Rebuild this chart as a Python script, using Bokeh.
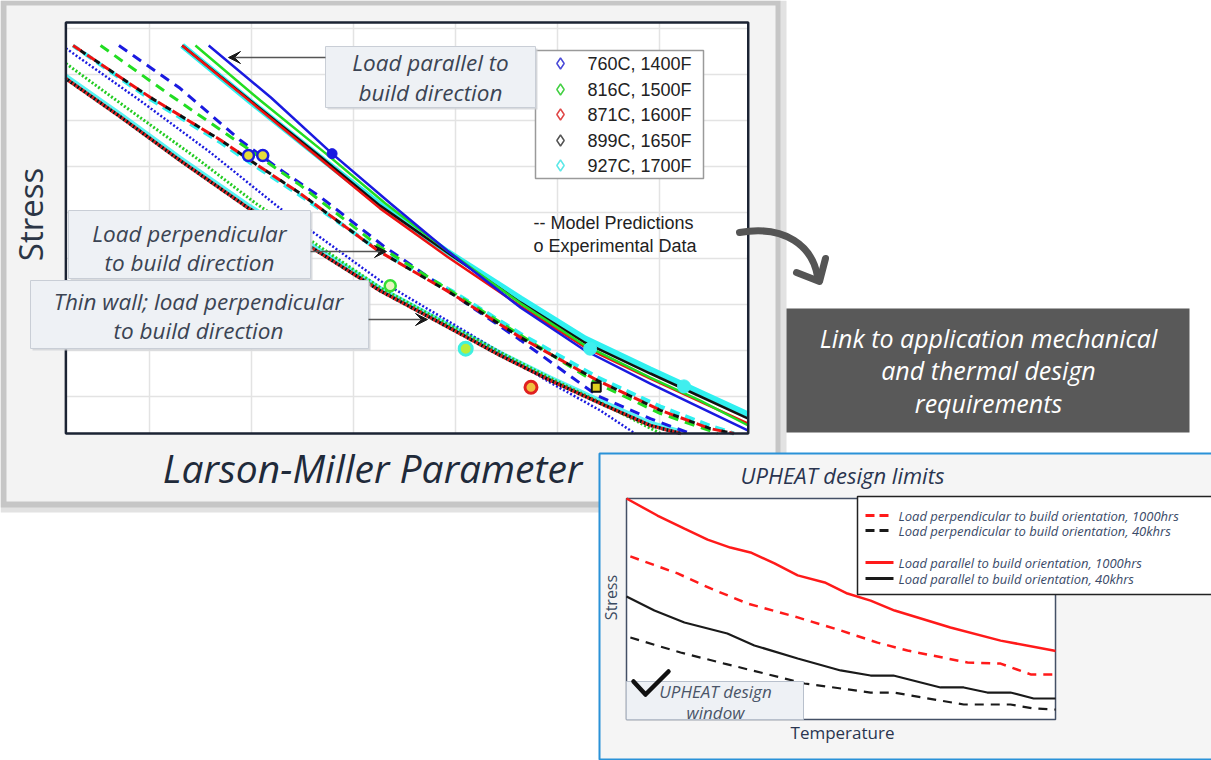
import math
from bokeh.plotting import figure
from bokeh.models import Range1d, Arrow, VeeHead
from bokeh.core.properties import value
from bokeh.embed import file_html
from bokeh.resources import INLINE

W, H = 1211, 760

# ---------------- Larson-Miller chart data ----------------
lmp_ticks = [22, 23, 24, 25, 26, 27]
stress_ticks = [10, 20, 30, 40, 50, 60, 70, 80, 90]
LMP_MIN, LMP_MAX = 21.18, 27.87
S_MIN, S_MAX = 1.96, 91.3

# Load parallel to build direction (solid model predictions)
par_black_x = [22.32, 22.99, 23.66, 24.26, 24.92, 25.64, 26.27, 26.91, 27.40, 27.87]
par_black_y = [86.3, 74.3, 62.4, 51.5, 41.3, 30.4, 21.7, 15.0, 10.0, 5.2]
par_red_x = [22.32, 22.99, 23.66, 24.26, 24.92, 25.64, 26.27, 26.91, 27.40, 27.87]
par_red_y = [86.3, 74.1, 61.9, 50.9, 40.4, 29.6, 20.7, 13.9, 8.9, 4.1]
par_cyan_x = [22.32, 22.99, 23.66, 24.26, 24.92, 25.64, 26.27, 26.91, 27.40, 27.87]
par_cyan_y = [86.3, 74.1, 62.2, 51.7, 41.5, 31.3, 22.6, 15.9, 10.9, 6.1]
par_green_x = [22.45, 23.09, 23.73, 24.31, 24.92, 25.64, 26.27, 26.91, 27.40, 27.87]
par_green_y = [86.3, 74.3, 62.8, 52.0, 41.7, 30.2, 21.1, 14.1, 9.1, 3.7]
par_blue_x = [22.58, 23.19, 23.79, 24.36, 24.92, 25.64, 26.27, 26.91, 27.40, 27.87]
par_blue_y = [86.3, 75.0, 62.8, 52.0, 41.7, 29.3, 20.0, 12.8, 7.6, 2.6]

# Load perpendicular to build direction (dashed)
perp_rk_x = [21.25, 22.01, 22.70, 22.99, 23.48, 24.24, 24.96, 25.64, 26.39, 27.01, 27.50, 27.73]
perp_red_y = [86.3, 75.0, 65.7, 61.3, 54.1, 41.7, 32.4, 22.8, 13.5, 7.0, 3.0, 1.96]
perp_black_y = [86.3, 75.0, 65.7, 61.3, 54.1, 41.7, 32.4, 22.8, 13.5, 7.0, 3.0, 1.96]
perp_cyan_y = [86.3, 74.6, 65.2, 60.8, 53.7, 41.9, 33.0, 23.6, 14.2, 7.8, 3.6, 1.96]
perp_green_x = [21.52, 22.21, 22.89, 23.48, 24.24, 24.95, 25.64, 26.39, 27.01, 27.57]
perp_green_y = [86.3, 75.4, 65.0, 55.9, 42.8, 33.0, 23.3, 12.8, 6.3, 1.96]
perp_blue_x = [21.70, 22.30, 22.89, 23.25, 23.68, 24.29, 24.95, 25.64, 26.39, 26.91, 27.30]
perp_blue_y = [86.3, 77.0, 65.7, 59.8, 53.3, 42.8, 32.6, 22.2, 10.2, 5.2, 1.96]

# Thin wall; load perpendicular (dotted)
thin_rk_x = [21.18, 21.72, 22.30, 22.96, 23.48, 24.26, 24.95, 25.44, 25.93, 26.42, 26.91, 27.21]
thin_red_y = [79.1, 70.7, 61.3, 51.1, 43.9, 33.0, 24.8, 18.9, 13.5, 8.5, 3.7, 1.96]
thin_black_y = [79.1, 70.7, 61.3, 51.1, 43.9, 33.0, 24.8, 18.9, 13.5, 8.5, 3.7, 1.96]
thin_cyan_y = [79.6, 71.2, 61.8, 51.6, 44.4, 33.5, 25.3, 19.4, 14.0, 9.0, 4.2, 2.3]
thin_green_x = [21.18, 21.81, 22.45, 23.04, 23.58, 24.26, 24.95, 25.44, 25.93, 26.42, 27.01]
thin_green_y = [82.4, 72.2, 62.0, 52.0, 43.9, 33.7, 25.4, 19.6, 14.0, 8.7, 1.96]
thin_blue_x = [21.18, 21.91, 22.60, 23.28, 23.58, 24.26, 24.95, 25.44, 25.93, 26.42, 26.76]
thin_blue_y = [85.7, 74.3, 63.0, 50.9, 46.1, 35.2, 26.1, 19.6, 13.0, 6.96, 1.96]

# Experimental data
exp_760_open_x = [22.97, 23.11]
exp_760_open_y = [62.4, 62.4]
exp_760_fill_x = [23.79]
exp_760_fill_y = [62.8]
exp_816_x = [24.36]
exp_816_y = [34.1]
exp_927_open_x = [25.10]
exp_927_open_y = [20.4]
exp_871_x = [25.74]
exp_871_y = [12.0]
exp_899_x = [26.38]
exp_899_y = [12.0]
exp_927_fill_x = [26.32, 27.24]
exp_927_fill_y = [20.4, 12.2]

legend_labels = ["760C, 1400F", "816C, 1500F", "871C, 1600F", "899C, 1650F", "927C, 1700F"]
legend_colors = ["#4a4ad8", "#44d044", "#e04848", "#555555", "#5ee8e8"]

# ---------------- UPHEAT design limits data ----------------
T_MIN, T_MAX = 0, 100
SD_MIN, SD_MAX = 0, 100
par1000_t = [0, 7.2, 13.5, 18.9, 24.2, 28.9, 34.5, 39.9, 46.2, 51.5, 56.9, 62.5, 75.5, 87.2, 99.5, 100]
par1000_s = [100, 92.3, 86.4, 81.4, 77.8, 75.6, 70.6, 65.2, 62.0, 57.0, 53.8, 49.3, 41.6, 35.7, 31.2, 31.0]
perp1000_t = [0.9, 11.9, 19.6, 28.2, 39.9, 49.9, 58.5, 65.5, 79.5, 87.2, 94.2, 100]
perp1000_s = [73.8, 66.1, 59.3, 52.5, 46.2, 40.3, 34.8, 31.2, 25.8, 25.3, 20.4, 20.4]
par40k_t = [0, 6.5, 13.5, 23.5, 29.8, 39.9, 49.9, 56.9, 62.2, 73.2, 78.6, 84.1, 89.5, 94.9, 100]
par40k_s = [55.7, 49.3, 43.9, 38.9, 33.5, 27.6, 22.2, 19.9, 19.9, 14.5, 14.5, 12.2, 12.2, 9.5, 9.5]
perp40k_t = [0.9, 12.6, 22.8, 32.2, 41.5, 56.9, 62.2, 78.6, 89.5, 94.9, 100]
perp40k_s = [37.1, 30.3, 25.3, 20.8, 16.3, 12.2, 12.2, 6.8, 6.8, 5.0, 4.5]

up_legend = ["Load perpendicular to build orientation, 1000hrs",
             "Load perpendicular to build orientation, 40khrs",
             "Load parallel to build orientation, 1000hrs",
             "Load parallel to build orientation, 40khrs"]

# ---------------- figure (canvas in pixel units) ----------------
p = figure(width=W, height=H, x_range=Range1d(0, W), y_range=Range1d(H, 0),
           output_backend="svg", toolbar_location=None, min_border=0,
           x_axis_location=None, y_axis_location=None,
           outline_line_color=None, background_fill_color="white",
           border_fill_color="white")
for g in p.grid:
    g.visible = False

p.extra_x_ranges = {"lmp": Range1d(20.539, 32.412), "up": Range1d(-145.92, 136.36)}
p.extra_y_ranges = {"lmp": Range1d(-69.13, 96.09), "up": Range1d(-18.55, 325.34)}

L = dict(x_range_name="lmp", y_range_name="lmp")
U = dict(x_range_name="up", y_range_name="up")

BOXFONT = value("Open Sans")
ARIAL = value("Liberation Sans")

# panel 1 with shadow
p.quad(left=0, right=786, top=0, bottom=512, fill_color="#e2e2e2", line_color=None)
p.quad(left=0, right=780, top=0, bottom=507, fill_color="#c6c6c6", line_color=None)
p.quad(left=6, right=775, top=5, bottom=501, fill_color="#f3f3f3", line_color=None)

# LMP frame and grid
p.quad(left=LMP_MIN, right=LMP_MAX, bottom=S_MIN, top=S_MAX, fill_color="white",
       line_color=None, **L)
p.segment(x0=lmp_ticks, x1=lmp_ticks, y0=[S_MIN] * len(lmp_ticks), y1=[S_MAX] * len(lmp_ticks),
          line_color="#e3e3e3", line_width=1.5, **L)
p.segment(x0=[LMP_MIN] * len(stress_ticks), x1=[LMP_MAX] * len(stress_ticks),
          y0=stress_ticks, y1=stress_ticks, line_color="#e3e3e3", line_width=1.5, **L)

# thin wall dotted
p.line(thin_rk_x, thin_cyan_y, line_color="#30f0f0", line_width=5, line_alpha=0.8, **L)
p.line(thin_blue_x, thin_blue_y, line_color="#1a1ae0", line_width=2.5, line_dash="2 2", **L)
p.line(thin_green_x, thin_green_y, line_color="#22cc22", line_width=3, line_dash="2 2", **L)
p.line(thin_rk_x, thin_red_y, line_color="#ee1111", line_width=3.5, line_dash="2 2", **L)
p.line(thin_rk_x, thin_black_y, line_color="#111111", line_width=3.5, line_dash="2 2",
       line_dash_offset=2, **L)

# perpendicular dashed
p.line(perp_rk_x, perp_cyan_y, line_color="#30f0f0", line_width=4, line_dash="10 6",
       line_dash_offset=3, **L)
p.line(perp_blue_x, perp_blue_y, line_color="#1a1ae0", line_width=3, line_dash="10 7", **L)
p.line(perp_green_x, perp_green_y, line_color="#22dd22", line_width=3, line_dash="10 7", **L)
p.line(perp_rk_x, perp_red_y, line_color="#ee1111", line_width=3, line_dash="10 7", **L)
p.line(perp_rk_x, perp_black_y, line_color="#111111", line_width=3, line_dash="6 11",
       line_dash_offset=8, **L)

# parallel solid
p.line(par_cyan_x, par_cyan_y, line_color="#30f0f0", line_width=6, **L)
p.line(par_black_x, par_black_y, line_color="#111111", line_width=2.5, **L)
p.line(par_red_x, par_red_y, line_color="#ee1111", line_width=2.5, **L)
p.line(par_green_x, par_green_y, line_color="#22dd22", line_width=2.5, **L)
p.line(par_blue_x, par_blue_y, line_color="#1a1ae0", line_width=2.5, **L)

# experimental data
p.scatter(exp_760_open_x, exp_760_open_y, marker="circle", size=11, fill_color="#e6dc3a",
          line_color="#1a1ae0", line_width=2.5, **L)
p.scatter(exp_760_fill_x, exp_760_fill_y, marker="circle", size=10, fill_color="#1a1ae0",
          line_color="#1a1ae0", **L)
p.scatter(exp_816_x, exp_816_y, marker="circle", size=11, fill_color="#e8f5c0",
          line_color="#33dd33", line_width=2.5, **L)
p.scatter(exp_927_open_x, exp_927_open_y, marker="circle", size=13, fill_color="#b8ee3a",
          line_color="#40f0e0", line_width=3, **L)
p.scatter(exp_871_x, exp_871_y, marker="circle", size=12, fill_color="#f0c040",
          line_color="#e02020", line_width=3, **L)
p.scatter(exp_899_x, exp_899_y, marker="square", size=9, fill_color="#e0d020",
          line_color="#111111", line_width=2, **L)
p.scatter(exp_927_fill_x, exp_927_fill_y, marker="circle", size=13, fill_color="#40eeee",
          line_color="#40eeee", **L)

# frame border
p.quad(left=LMP_MIN, right=LMP_MAX, bottom=S_MIN, top=S_MAX, fill_color=None,
       line_color="#1b2333", line_width=2.5, **L)

# legend box (LMP)
p.quad(left=535, right=703, top=50, bottom=178, fill_color="white", line_color="#9a9a9a",
       line_width=1.5)
leg_y = [63, 89, 114, 140, 165]
p.scatter([560] * 5, leg_y, marker="diamond", size=11, fill_color=None,
          line_color=legend_colors, line_width=1.5)
p.text([587] * 5, leg_y, text=legend_labels, text_font=ARIAL, text_font_size="18px",
       text_color="#222222", text_baseline="middle", text_align="left")
p.text([533, 533], [222, 245], text=["-- Model Predictions", "o Experimental Data"],
       text_font=ARIAL, text_font_size="18px", text_color="#222222",
       text_baseline="middle", text_align="left")

# callout boxes
def callout(l, r, t, b, lines, cx, ys, size="22.5px"):
    p.quad(left=l + 2, right=r + 2, top=t + 2, bottom=b + 2, fill_color="#cfd2d6",
           line_color=None, fill_alpha=0.8)
    p.quad(left=l, right=r, top=t, bottom=b, fill_color="#eef1f5", line_color="#c9ced6",
           line_width=1)
    p.text([cx] * len(lines), ys, text=lines, text_font=BOXFONT, text_font_style="italic",
           text_font_size=size, text_color="#3b4453", text_align="center",
           text_baseline="middle")

callout(325, 535, 46, 107, ["Load parallel to", "build direction"], 430, [62, 92])
callout(68, 310, 210, 278, ["Load perpendicular", "to build direction"], 189, [233, 262])
callout(30, 368, 280, 348, ["Thin wall; load perpendicular", "to build direction"], 198, [301, 330])

# callout arrows
for xs, xe, yy in [(325, 228, 57), (310, 386, 251), (368, 427, 319)]:
    p.add_layout(Arrow(end=VeeHead(size=12, fill_color="#1a1a1a", line_color="#1a1a1a"),
                       x_start=xs, y_start=yy, x_end=xe, y_end=yy,
                       line_color="#555555", line_width=1.5))

# axis titles
p.text([30], [214], text=["Stress"], text_font=BOXFONT, text_font_size="33px",
       text_color="#2b3545", text_align="center", text_baseline="middle", angle=math.pi / 2)
p.text([372], [467], text=["Larson-Miller Parameter"], text_font=BOXFONT,
       text_font_style="italic", text_font_size="39px", text_color="#1f2a3a",
       text_align="center", text_baseline="middle")

# curved arrow
p.bezier(x0=[739], y0=[232], x1=[817], y1=[276], cx0=[785], cy0=[224], cx1=[812], cy1=[246],
         line_color="#555555", line_width=7, line_cap="round")
p.multi_line([[796, 819, 825]], [[272, 281, 258]], line_color="#555555", line_width=7,
             line_cap="round", line_join="round")

# dark link box
p.quad(left=786, right=1189, top=308, bottom=432, fill_color="#595959", line_color=None)
p.text([988, 988, 988], [337, 369, 402],
       text=["Link to application mechanical", "and thermal design", "requirements"],
       text_font=BOXFONT, text_font_style="italic", text_font_size="25px",
       text_color="white", text_align="center", text_baseline="middle")

# ---------------- panel 2: UPHEAT design limits ----------------
p.quad(left=599, right=1214, top=453, bottom=759, fill_color="#f5f5f5",
       line_color="#2a92d8", line_width=2)
p.quad(left=T_MIN, right=T_MAX, bottom=SD_MIN, top=SD_MAX, fill_color="white",
       line_color="#445066", line_width=1.5, **U)

p.line(par1000_t, par1000_s, line_color="#ff1a1a", line_width=2.5, **U)
p.line(perp1000_t, perp1000_s, line_color="#ff1a1a", line_width=2.5, line_dash="9 7", **U)
p.line(par40k_t, par40k_s, line_color="#1a1a1a", line_width=2.2, **U)
p.line(perp40k_t, perp40k_s, line_color="#1a1a1a", line_width=2.2, line_dash="9 7", **U)

p.text([842], [474], text=["UPHEAT design limits"], text_font=BOXFONT,
       text_font_style="italic", text_font_size="22px", text_color="#2a3550",
       text_align="center", text_baseline="middle")
p.text([610], [597], text=["Stress"], text_font=BOXFONT, text_font_size="16px",
       text_color="#3a4a60", text_align="center", text_baseline="middle", angle=math.pi / 2)
p.text([842], [732], text=["Temperature"], text_font=BOXFONT, text_font_size="17px",
       text_color="#2a3550", text_align="center", text_baseline="middle")

# legend (UPHEAT)
p.quad(left=857, right=1215, top=496, bottom=594, fill_color="white", line_color="#222222",
       line_width=1.5)
uy = [515, 530, 562, 578]
ucol = ["#ff1a1a", "#1a1a1a", "#ff1a1a", "#1a1a1a"]
udash = ["9 5", "9 5", "solid", "solid"]
for yy, c, d in zip(uy, ucol, udash):
    p.segment(x0=[865], x1=[893], y0=[yy], y1=[yy], line_color=c, line_width=3, line_dash=d)
p.text([898] * 4, uy, text=up_legend, text_font=BOXFONT, text_font_style="italic",
       text_font_size="13px", text_color="#3a4a68", text_align="left",
       text_baseline="middle")

# design window box
p.quad(left=626, right=803, top=681, bottom=719, fill_color="#eef1f5", line_color="#b8c0cc",
       line_width=1)
p.line([633, 645, 668], [681, 694, 671], line_color="#111111", line_width=4.5,
       line_join="round", line_cap="round")
p.text([715, 715], [691, 712], text=["UPHEAT design", "window"], text_font=BOXFONT,
       text_font_style="italic", text_font_size="17px", text_color="#4a5568",
       text_align="center", text_baseline="middle")

open("out.html", "w").write(file_html(p, INLINE))
